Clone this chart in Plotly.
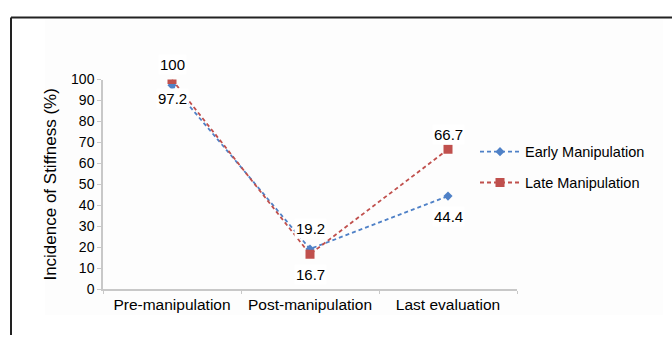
import plotly.graph_objects as go

# Stiffness incidence at each evaluation stage
stages = ["Pre-manipulation", "Post-manipulation", "Last evaluation"]
early = [97.2, 19.2, 44.4]
late = [100, 16.7, 66.7]

# vertical offset (px) of each value label from its marker
early_shift = [-13, 20, -20]
late_shift = [15, -20, 15]

y_ticks = list(range(0, 101, 10))

W, H = 672, 343
FONT = "Liberation Sans, Arial, Helvetica, sans-serif"
BLUE = "#4f81c7"
RED = "#c0504d"

fig = go.Figure()
fig.add_trace(go.Scatter(
    x=stages, y=early, name="Early Manipulation", mode="lines+markers",
    line=dict(color=BLUE, width=1.8, dash="4px,3px"),
    marker=dict(symbol="diamond", size=7, color=BLUE),
    legendgroup="early",
))
fig.add_trace(go.Scatter(
    x=stages, y=late, name="Late Manipulation", mode="lines+markers",
    line=dict(color=RED, width=1.8, dash="4px,3px"),
    marker=dict(symbol="square", size=9, color=RED),
    legendgroup="late",
))

# value labels with a white box so they sit cleanly over the lines
annotations = []
for vals, shifts in ((early, early_shift), (late, late_shift)):
    for cat, v, s in zip(stages, vals, shifts):
        annotations.append(dict(
            x=cat, y=v, xref="x", yref="y", text=f"{v:g}", showarrow=False,
            yshift=s, bgcolor="white", borderpad=1,
            font=dict(family=FONT, size=15, color="black"),
        ))

fig.update_layout(
    width=W, height=H,
    margin=dict(l=0, r=0, t=0, b=0),
    paper_bgcolor="white", plot_bgcolor="rgba(0,0,0,0)",
    font=dict(family=FONT, color="black"),
    showlegend=True,
    legend=dict(
        x=475 / W, y=1 - 134 / H, xanchor="left", yanchor="top",
        bgcolor="rgba(0,0,0,0)", font=dict(size=14.5, color="black"),
        tracegroupgap=9, itemwidth=40,
    ),
    xaxis=dict(
        domain=[103 / W, 517 / W], type="category", range=[-0.5, 2.5],
        showline=True, linecolor="#c8c8c8", linewidth=1.5,
        ticks="outside", tickson="boundaries", ticklen=3, tickcolor="#c8c8c8",
        showgrid=False, zeroline=False,
        tickfont=dict(size=15.5, color="black"),
    ),
    yaxis=dict(
        domain=[(H - 295) / H, (H - 75) / H], range=[0, 100],
        tickvals=y_ticks, showline=True, linecolor="#c8c8c8", linewidth=1.5,
        ticks="outside", ticklen=4, tickcolor="#c8c8c8",
        showgrid=False, zeroline=False,
        tickfont=dict(size=14, color="black"),
        title=dict(text="Incidence of Stiffness (%)", standoff=10,
                   font=dict(size=17, color="black")),
    ),
    annotations=annotations,
    shapes=[
        # faint panel behind the chart
        dict(type="rect", xref="paper", yref="paper", layer="below",
             x0=45 / W, x1=663 / W, y0=1 - 322 / H, y1=1 - 12 / H,
             fillcolor="#fdfdfd", line=dict(width=0)),
        # frame: top and left edges
        dict(type="line", xref="paper", yref="paper",
             x0=11 / W, x1=1, y0=1 - 10 / H, y1=1 - 10 / H,
             line=dict(color="#222222", width=2)),
        dict(type="line", xref="paper", yref="paper",
             x0=11 / W, x1=11 / W, y0=0, y1=1 - 10 / H,
             line=dict(color="#222222", width=2)),
    ],
)

fig.write_html("out.html")
